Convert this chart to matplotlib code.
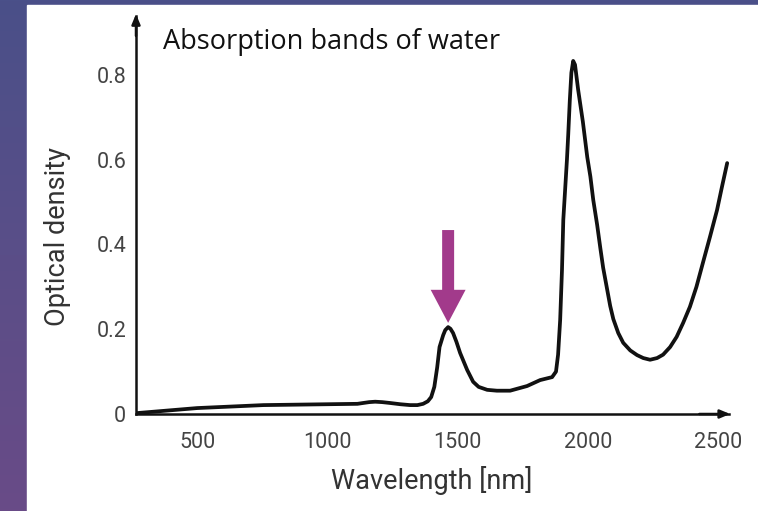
import numpy as np
import matplotlib
matplotlib.use("Agg")
import matplotlib.pyplot as plt
from matplotlib.patches import FancyArrow, Rectangle
from matplotlib.colors import LinearSegmentedColormap

# ---- data ----
wavelength = [266, 500, 754, 1115, 1137, 1160, 1183, 1210, 1240, 1280, 1317, 1345,
              1367, 1385, 1398, 1410, 1421, 1430, 1444, 1452, 1463, 1472, 1482,
              1495, 1509, 1536, 1559, 1580, 1613, 1650, 1701, 1766, 1816, 1862,
              1877, 1885, 1893, 1900, 1905, 1919, 1924, 1930, 1936, 1943, 1950,
              1962, 1980, 1997, 2009, 2020, 2035, 2047, 2058, 2073, 2085, 2097,
              2116, 2135, 2162, 2188, 2212, 2238, 2265, 2288, 2315, 2340, 2365,
              2391, 2416, 2441, 2468, 2495, 2514, 2534]
optical_density = [0.002, 0.014, 0.021, 0.024, 0.026, 0.028, 0.029, 0.028, 0.026,
                   0.023, 0.021, 0.021, 0.024, 0.030, 0.040, 0.064, 0.110, 0.158,
                   0.186, 0.198, 0.205, 0.201, 0.191, 0.170, 0.144, 0.104, 0.076,
                   0.064, 0.057, 0.055, 0.055, 0.066, 0.080, 0.087, 0.100, 0.140,
                   0.222, 0.340, 0.458, 0.600, 0.660, 0.740, 0.805, 0.833, 0.824,
                   0.765, 0.690, 0.606, 0.560, 0.505, 0.446, 0.392, 0.345, 0.295,
                   0.255, 0.224, 0.191, 0.168, 0.150, 0.139, 0.132, 0.128, 0.132,
                   0.140, 0.158, 0.182, 0.215, 0.253, 0.300, 0.357, 0.418, 0.481,
                   0.536, 0.592]
x_ticks = [500, 1000, 1500, 2000, 2500]
y_ticks = [0, 0.2, 0.4, 0.6, 0.8]
y_tick_labels = ["0", "0.2", "0.4", "0.6", "0.8"]
marked_peak = 1463
title = "Absorption bands of water"

W, H = 758, 511
fig = plt.figure(figsize=(W / 100, H / 100), dpi=100)

# background: purple gradient band + white panel
bg = fig.add_axes([0, 0, 1, 1], zorder=-10)
cmap = LinearSegmentedColormap.from_list("bg", ["#4a5089", "#5a4e88", "#694b87"])
grad = np.linspace(0, 1, 256).reshape(-1, 1)
bg.imshow(grad, cmap=cmap, aspect="auto", extent=[0, 1, 0, 1], origin="upper")
bg.add_patch(Rectangle((27 / W, 0), 1 - 27 / W, 1 - 5 / H, color="white", zorder=2))
bg.set_xlim(0, 1)
bg.set_ylim(0, 1)
bg.axis("off")

# main axes
x_left_px, x_right_px = 136, 729
y_bottom_px, y_top_px = 414, 16
ax = fig.add_axes([x_left_px / W, (H - y_bottom_px) / H,
                   (x_right_px - x_left_px) / W, (y_bottom_px - y_top_px) / H])
ax.patch.set_alpha(0)
ax.set_xlim(265, 2541)
ax.set_ylim(0, 0.939)

ax.plot(wavelength, optical_density, color="#111111", lw=2.7,
        solid_joinstyle="round", solid_capstyle="round", zorder=3)

for s in ["top", "right"]:
    ax.spines[s].set_visible(False)
for s in ["left", "bottom"]:
    ax.spines[s].set_linewidth(1.8)
    ax.spines[s].set_color("#111111")

# axis arrowheads
ax.annotate("", xy=(0, 1.005), xytext=(0, 0.95), xycoords="axes fraction",
            arrowprops=dict(arrowstyle="-|>,head_width=0.25,head_length=0.6",
                            color="#111111", lw=1.8, shrinkA=0, shrinkB=0),
            annotation_clip=False)
ax.annotate("", xy=(1.002, 0), xytext=(0.95, 0), xycoords="axes fraction",
            arrowprops=dict(arrowstyle="-|>,head_width=0.25,head_length=0.6",
                            color="#111111", lw=1.8, shrinkA=0, shrinkB=0),
            annotation_clip=False)

tick_font = dict(family="Roboto", size=15.5, color="#444444")
ax.set_xticks(x_ticks)
ax.set_xticklabels([str(v) for v in x_ticks], **tick_font)
ax.set_yticks(y_ticks)
ax.set_yticklabels(y_tick_labels, **tick_font)
ax.tick_params(axis="x", length=0, pad=13)
ax.tick_params(axis="y", length=0, pad=7)

ax.set_xlabel("Wavelength [nm]", family="Roboto", size=19.5, color="#333333",
              va="center")
ax.xaxis.set_label_coords(0.499, -0.166)
ax.set_ylabel("Optical density", family="Roboto", size=19.5, color="#333333",
              va="center")
ax.yaxis.set_label_coords(-0.133, 0.445)

# magenta arrow marking the 1450 nm band
tip = 0.215
tail = 0.434
ax.add_patch(FancyArrow(marked_peak, tail, 0, tip - tail, width=46, head_width=134,
                        head_length=0.078, length_includes_head=True,
                        color="#a23a8b", lw=0, zorder=4))

fig.text(163 / W, 1 - 42 / H, title, family="Open Sans", size=19.5, color="#111111",
         ha="left", va="center")

fig.savefig("out.png", dpi=100)
